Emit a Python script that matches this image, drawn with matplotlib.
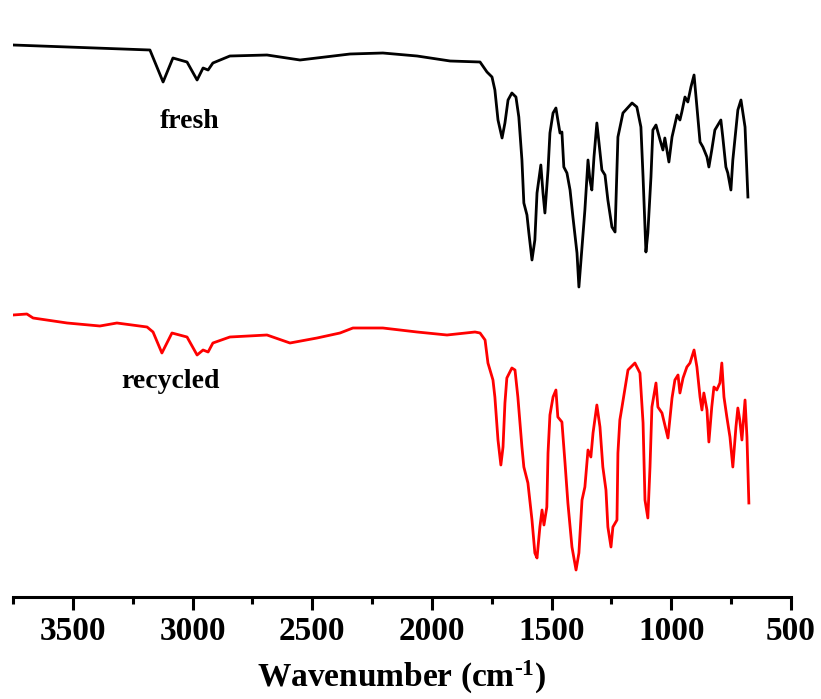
import matplotlib
matplotlib.use("Agg")
import matplotlib.pyplot as plt
from matplotlib.ticker import MultipleLocator

# FT-IR spectra, transmittance in arbitrary units
wn_fresh = [3750, 3178, 3123, 3082, 3023, 2981, 2956, 2935, 2915, 2844, 2689, 2551,
            2342, 2205, 2062, 1924,
            1799, 1770, 1749, 1737, 1724, 1707, 1695, 1682, 1666, 1649, 1637, 1624,
            1616, 1603, 1595, 1582, 1570, 1561, 1545, 1536, 1528, 1515, 1507, 1494,
            1482, 1474, 1465, 1457, 1449, 1436, 1423, 1411, 1394, 1386, 1373, 1361,
            1348, 1340, 1332, 1323, 1311, 1302, 1290, 1277, 1265, 1248, 1235, 1223,
            1202, 1164, 1144, 1127, 1118, 1106, 1098, 1085, 1077, 1064, 1047, 1035,
            1027, 1010, 997, 976, 964, 956, 943, 931, 918, 905, 893, 880, 868, 851,
            843, 831, 818, 793, 785, 772, 764, 751, 743, 722, 709, 692, 680]
t_fresh = [555, 550, 518, 542, 538, 520, 532, 530, 537, 544, 545, 540,
           546, 547, 544, 539,
           538, 528, 523, 510, 480, 462, 477, 500, 507, 503, 483, 440,
           397, 385, 367, 340, 360, 407, 435, 407, 387, 430, 467, 487,
           492, 480, 467, 468, 433, 427, 410, 383, 347, 313, 353, 390,
           440, 420, 410, 443, 477, 457, 430, 425, 400, 373, 368, 463,
           487, 497, 493, 473, 423, 348, 367, 423, 470, 475, 460, 450,
           462, 438, 463, 485, 480, 488, 503, 498, 513, 525, 493, 458, 453, 443,
           433, 450, 470, 480, 463, 433, 427, 410, 440, 490, 500, 473, 403]

wn_recycled = [3750, 3692, 3666, 3524, 3387, 3316, 3190, 3165, 3128, 3086, 3023, 2981,
               2956, 2935, 2915, 2844, 2689, 2593, 2480, 2384, 2330, 2205, 2062, 1937,
               1820, 1799, 1778, 1766, 1745, 1737, 1724, 1712, 1703, 1695, 1687, 1666,
               1653, 1641, 1624, 1616, 1599, 1582, 1570, 1561, 1549, 1540, 1532, 1520,
               1515, 1507, 1494, 1482, 1474, 1457, 1444, 1432, 1415, 1398, 1386, 1373,
               1361, 1348, 1336, 1327, 1311, 1298, 1286, 1273, 1265, 1252, 1244, 1227,
               1223, 1215, 1206, 1181, 1152, 1131, 1118, 1110, 1098, 1089, 1081, 1064,
               1056, 1039, 1027, 1014, 997, 985, 972, 964, 951, 935, 922, 905, 893,
               880, 872, 864, 851, 843, 831, 822, 810, 797, 789, 780, 768, 755, 743,
               730, 722, 714, 705, 692, 684, 676]
t_recycled = [285, 286, 282, 277, 274, 277, 273, 268, 247, 267, 263, 245,
              250, 248, 257, 263, 265, 257, 262, 267, 272, 272, 268, 265,
              268, 267, 260, 237, 220, 203, 160, 135, 153, 197, 222, 232,
              230, 203, 153, 133, 117, 80, 47, 42, 73, 90, 75, 93,
              147, 185, 203, 210, 183, 178, 137, 97, 53, 30, 47, 100,
              113, 150, 143, 167, 195, 173, 133, 110, 73, 53, 73, 80,
              147, 180, 193, 230, 237, 227, 177, 100, 82, 133, 193, 217,
              193, 187, 175, 162, 202, 220, 225, 207, 222, 233, 237, 250, 233,
              203, 190, 207, 190, 158, 193, 213, 210, 217, 237, 203, 183, 163, 133,
              173, 192, 180, 160, 200, 163, 97]

plt.rcParams['font.family'] = 'Liberation Serif'
plt.rcParams['font.weight'] = 'bold'
plt.rcParams['mathtext.fontset'] = 'custom'
plt.rcParams['mathtext.rm'] = 'Liberation Serif:bold'
plt.rcParams['mathtext.it'] = 'Liberation Serif:bold'
plt.rcParams['mathtext.bf'] = 'Liberation Serif:bold'

fig = plt.figure(figsize=(8.21, 6.99), dpi=100)
ax = fig.add_axes([13 / 821, 102 / 699, 778 / 821, 597 / 699])

ax.plot(wn_fresh, t_fresh, color='black', lw=2)
ax.plot(wn_recycled, t_recycled, color='red', lw=2)

ax.text(3011, 472, 'fresh', fontsize=20, fontweight='bold', ha='center', va='baseline')
ax.text(3094, 212, 'recycled', fontsize=20, fontweight='bold', ha='center', va='baseline')

ax.set_xlim(3750, 500)
ax.set_ylim(3, 600)
ax.xaxis.set_major_locator(MultipleLocator(500))
ax.xaxis.set_minor_locator(MultipleLocator(250))

for s in ['left', 'right', 'top']:
    ax.spines[s].set_visible(False)
ax.spines['bottom'].set_linewidth(2.2)
ax.set_yticks([])
ax.tick_params(axis='x', which='major', direction='out', length=9, width=2.2,
               labelsize=24, pad=5)
ax.tick_params(axis='x', which='minor', direction='out', length=5, width=2.2)
for lab in ax.get_xticklabels():
    lab.set_fontweight('bold')

ax.set_xlabel(r'Wavenumber (cm$^{\text{-1}}$)', fontsize=24, fontweight='bold', labelpad=8)

fig.savefig('out.png', dpi=100)
